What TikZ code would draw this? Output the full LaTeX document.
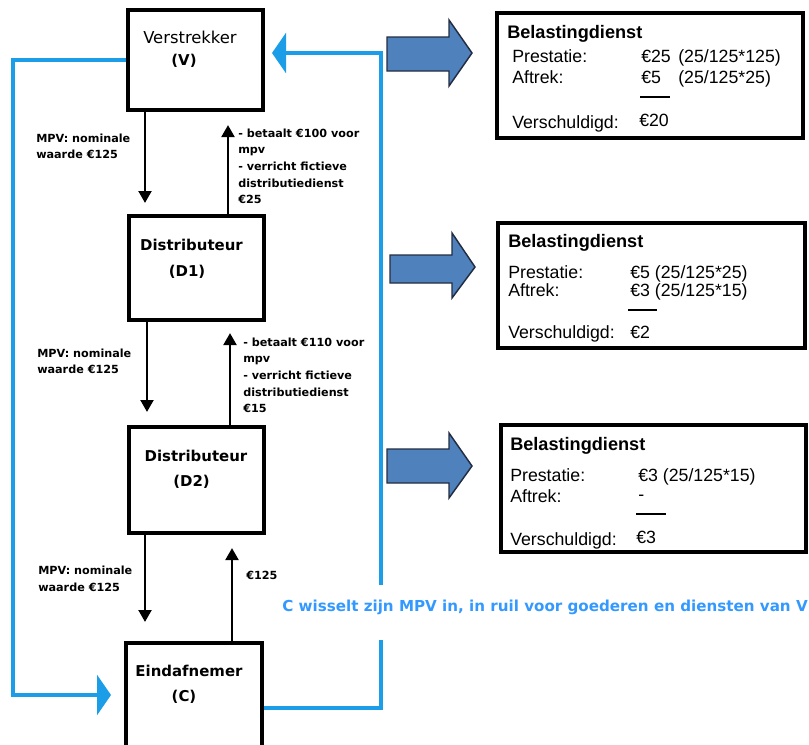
\documentclass[tikz,border=0pt]{standalone}
\usepackage{fontspec}
\setmainfont{DejaVu Sans}
\newfontfamily\boxfont{Liberation Sans}
\usetikzlibrary{arrows.meta}
\definecolor{flowblue}{RGB}{27,157,232}
\definecolor{labelblue}{RGB}{51,153,255}
\definecolor{blockfill}{RGB}{79,129,189}
\definecolor{blockedge}{RGB}{35,45,65}
\begin{document}
\begin{tikzpicture}[x=0.75pt,y=-0.75pt,
  party/.style={draw,line width=2.3pt,inner sep=0pt},
  taxbox/.style={draw,line width=2.3pt,inner sep=0pt},
  txt/.style={inner sep=0pt,anchor=base},
  txtl/.style={inner sep=0pt,anchor=base west},
  namefont/.style={font=\fontsize{12.3}{14}\selectfont},
  namebold/.style={font=\fontsize{11.2}{14}\selectfont\bfseries},
  smallbold/.style={font=\fontsize{8.4}{12}\selectfont\bfseries},
  taxhead/.style={font=\boxfont\fontsize{13.6}{16}\selectfont\bfseries},
  taxtext/.style={font=\boxfont\fontsize{13.3}{16}\selectfont},
  blackflow/.style={line width=2.2pt,-{Triangle[width=9.5pt,length=9pt]}},
  blueflow/.style={draw=flowblue,line width=2.3pt},
  bluetip/.style={-{Triangle[width=30pt,length=10.5pt]}},
  block/.style={fill=blockfill,draw=blockedge,line width=1.1pt,line join=miter}]
\useasboundingbox (0,0) rectangle (809,744);

% parties in the chain
\node[party,minimum width=101.25pt,minimum height=75pt] (V) at (195.5,60) {};
\node[party,minimum width=101.25pt,minimum height=78pt] (D1) at (196.5,268) {};
\node[party,minimum width=101.25pt,minimum height=79.5pt] (D2) at (196.5,480) {};
\node[party,minimum width=102pt,minimum height=90pt] (C) at (194,703) {};

\node[txt,namefont] (Vn) at (190,43) {Verstrekker};
\node[txt,namebold] (Vl) at (184,65) {(V)};
\node[txt,namebold] (D1n) at (191.5,250) {Distributeur};
\node[txt,namebold] (D1l) at (187,276) {(D1)};
\node[txt,namebold] (D2n) at (196,461) {Distributeur};
\node[txt,namebold] (D2l) at (191.5,486) {(D2)};
\node[txt,namebold] (Cn) at (189,676) {Eindafnemer};
\node[txt,namebold] (Cl) at (184,701) {(C)};

% flows down and up between the parties
\coordinate (a1) at (145,203);
\coordinate (a2) at (147,412);
\coordinate (a3) at (145,622);
\coordinate (b1) at (228,125);
\coordinate (b2) at (230,333);
\coordinate (b3) at (232,548);
\draw[blackflow] (V.south -| a1) -- (a1);
\draw[blackflow] (D1.south -| a2) -- (a2);
\draw[blackflow] (D2.south -| a3) -- (a3);
\draw[blackflow] (D1.north -| b1) -- (b1);
\draw[blackflow] (D2.north -| b2) -- (b2);
\draw[blackflow] (C.north -| b3) -- (b3);

% flow labels
\node[txtl,smallbold] (m1a) at (36,142) {MPV: nominale};
\node[txtl,smallbold] (m1b) at (36,158) {waarde €125};
\node[txtl,smallbold] (m2a) at (37,357) {MPV: nominale};
\node[txtl,smallbold] (m2b) at (37,373) {waarde €125};
\node[txtl,smallbold] (m3a) at (38,574) {MPV: nominale};
\node[txtl,smallbold] (m3b) at (38,591) {waarde €125};

\node[txtl,smallbold] (p1a) at (238,137) {- betaalt €100 voor};
\node[txtl,smallbold] (p1b) at (238,153) {mpv};
\node[txtl,smallbold] (p1c) at (238,170) {- verricht fictieve};
\node[txtl,smallbold] (p1d) at (238,187) {distributiedienst};
\node[txtl,smallbold] (p1e) at (238,203) {€25};
\node[txtl,smallbold] (p2a) at (243,346) {- betaalt €110 voor};
\node[txtl,smallbold] (p2b) at (243,362) {mpv};
\node[txtl,smallbold] (p2c) at (243,379) {- verricht fictieve};
\node[txtl,smallbold] (p2d) at (243,396) {distributiedienst};
\node[txtl,smallbold] (p2e) at (243,412) {€15};
\node[txtl,smallbold] (p3a) at (246,579) {€125};

% voucher redemption loop
\coordinate (lc) at (13,695);
\coordinate (cin) at (111,695);
\coordinate (cr) at (381,708);
\coordinate (gb) at (381,640);
\coordinate (gt) at (381,585);
\coordinate (vr) at (381,53);
\coordinate (vin) at (272,53);
\draw[blueflow,bluetip] (V.west) -| (lc) -- (cin);
\draw[blueflow] (C.east |- cr) -- (cr) -- (gb);
\draw[blueflow,bluetip] (gt) -- (vr) -- (vin);
\node[txt,text=labelblue,font=\fontsize{11.35}{13}\selectfont\bfseries] (redeem) at (545,611)
  {C wisselt zijn MPV in, in ruil voor goederen en diensten van V};

% block arrows towards the tax office
\draw[block] (387,37) -- (449,37) -- (449,20) -- (472,53) -- (449,86) -- (449,71) -- (387,71) -- cycle;
\draw[block] (390,255) -- (452,255) -- (452,233) -- (475,267) -- (452,298) -- (452,283) -- (390,283) -- cycle;
\draw[block] (387,449) -- (449,449) -- (449,433) -- (472,466) -- (449,498) -- (449,483) -- (387,483) -- cycle;

% tax office boxes
\node[taxbox,minimum width=229.5pt,minimum height=93.75pt] (T1) at (650,75.5) {};
\node[taxbox,minimum width=230.25pt,minimum height=93.75pt] (T2) at (651.5,285.5) {};
\node[taxbox,minimum width=228.75pt,minimum height=95.25pt] (T3) at (653.5,488.5) {};

\node[txtl,taxhead] (t1h) at (507,38) {Belastingdienst};
\node[txtl,taxtext] (t1a) at (512,62) {Prestatie:};
\node[txtl,taxtext] (t1b) at (512,83) {Aftrek:};
\node[txtl,taxtext] (t1c) at (512,128) {Verschuldigd:};
\node[txtl,taxtext] (t1av) at (641,62) {€25};
\node[txtl,taxtext] (t1af) at (678,62) {(25/125*125)};
\node[txtl,taxtext] (t1bv) at (641,83) {€5};
\node[txtl,taxtext] (t1bf) at (678,83) {(25/125*25)};
\node[txtl,taxtext] (t1cv) at (639,126) {€20};
\coordinate (u1a) at (640,97);
\coordinate (u1b) at (670,97);
\draw[line width=1pt] (u1a) -- (u1b);

\node[txtl,taxhead] (t2h) at (508,247) {Belastingdienst};
\node[txtl,taxtext] (t2a) at (508,278) {Prestatie:};
\node[txtl,taxtext] (t2b) at (508,296) {Aftrek:};
\node[txtl,taxtext] (t2c) at (508,338) {Verschuldigd:};
\node[txtl,taxtext] (t2av) at (630,278) {€5 (25/125*25)};
\node[txtl,taxtext] (t2bv) at (630,296) {€3 (25/125*15)};
\node[txtl,taxtext] (t2cv) at (630,338) {€2};
\coordinate (u2a) at (628,310);
\coordinate (u2b) at (657,310);
\draw[line width=1.5pt] (u2a) -- (u2b);

\node[txtl,taxhead] (t3h) at (510,450) {Belastingdienst};
\node[txtl,taxtext] (t3a) at (510,481) {Prestatie:};
\node[txtl,taxtext] (t3b) at (510,502) {Aftrek:};
\node[txtl,taxtext] (t3c) at (510,545) {Verschuldigd:};
\node[txtl,taxtext] (t3av) at (638,481) {€3 (25/125*15)};
\node[txtl,taxtext] (t3bv) at (638,500) {-};
\node[txtl,taxtext] (t3cv) at (636,543) {€3};
\coordinate (u3a) at (636,514);
\coordinate (u3b) at (666,514);
\draw[line width=1.5pt] (u3a) -- (u3b);
\end{tikzpicture}
\end{document}
